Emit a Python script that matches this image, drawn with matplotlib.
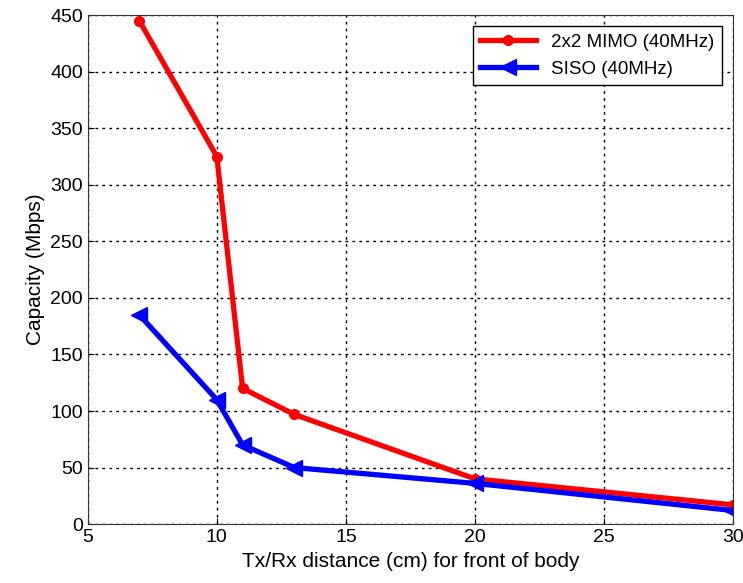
import matplotlib
matplotlib.use("Agg")
import matplotlib.pyplot as plt

plt.rcParams['font.family'] = ['Liberation Sans', 'DejaVu Sans']

# Data
distance = [7, 10, 11, 13, 20, 30]
mimo = [445, 325, 120, 97, 40, 17]
siso = [185, 110, 70, 50, 36, 12]

fig = plt.figure(figsize=(7.43, 5.83), dpi=100)
ax = fig.add_axes([0.118, 0.101, 0.869, 0.873])

ax.plot(distance, mimo, color="red", marker="o", markersize=7, linewidth=3.8,
        label="2x2 MIMO (40MHz)")
ax.plot(distance, siso, color="blue", marker="<", markersize=11, linewidth=3.8,
        label="SISO (40MHz)")

ax.set_xlim(5, 30)
ax.set_ylim(0, 450)
ax.set_xticks(range(5, 31, 5))
ax.set_yticks(range(0, 451, 50))
ax.tick_params(labelsize=14, direction="in", length=4)
ax.grid(True, color="black", linestyle=(0, (2, 3)), linewidth=1)
ax.set_xlabel("Tx/Rx distance (cm) for front of body", fontsize=15)
ax.set_ylabel("Capacity (Mbps)", fontsize=15)
for s in ax.spines.values():
    s.set_color("#333333")

leg = ax.legend(loc="upper right", fontsize=13.5, fancybox=False, framealpha=1,
                edgecolor="black", handlelength=3, borderaxespad=0.6)
leg.get_frame().set_linewidth(1)

fig.savefig("out.png", dpi=100)
